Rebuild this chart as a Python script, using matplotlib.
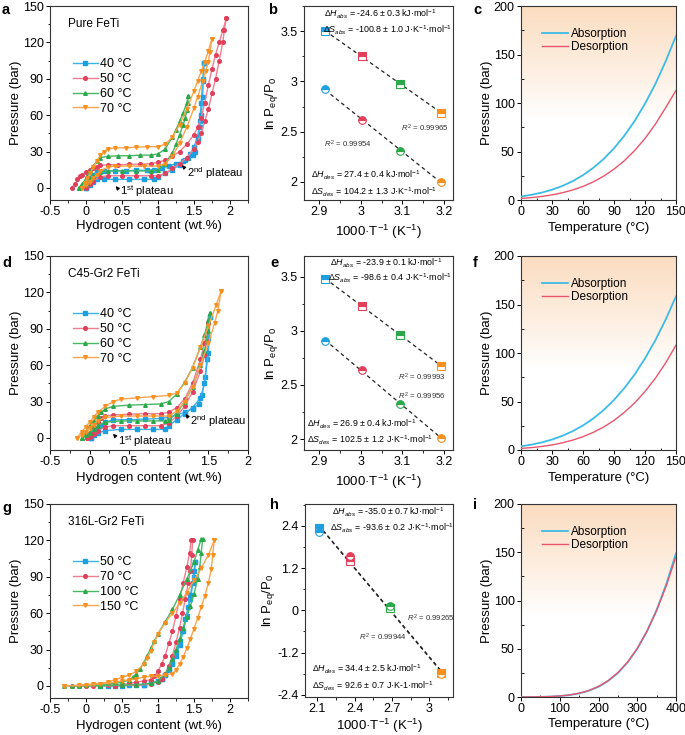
import numpy as np
import matplotlib
matplotlib.use("Agg")
import matplotlib.pyplot as plt
from matplotlib.ticker import MultipleLocator, FuncFormatter

# fuentes tipo Arial
plt.rcParams['font.family'] = ['Liberation Sans', 'DejaVu Sans']
plt.rcParams['mathtext.fontset'] = 'custom'
plt.rcParams['mathtext.rm'] = 'Liberation Sans'
plt.rcParams['mathtext.it'] = 'Liberation Sans:italic'
plt.rcParams['mathtext.bf'] = 'Liberation Sans:bold'
plt.rcParams['axes.unicode_minus'] = False
plt.rcParams['font.size'] = 9

# ---------------- data: PCT curves (x = wt.%, y = bar) ----------------
# panel a, Pure FeTi
a_temps = ['40 °C', '50 °C', '60 °C', '70 °C']
a40_ax = [0.0, 0.03, 0.06, 0.1, 0.15, 0.25, 0.4, 0.55, 0.7, 0.85, 0.95, 1.05, 1.15, 1.25, 1.35, 1.42, 1.48, 1.52, 1.55, 1.58, 1.6, 1.62, 1.64]
a40_ay = [0, 4, 8, 11, 13, 14, 14, 14, 14.5, 14.5, 15, 16, 18, 20, 22, 25, 27, 30, 40, 55, 70, 88, 103]
a40_dx = [1.64, 1.63, 1.62, 1.6, 1.58, 1.55, 1.5, 1.45, 1.38, 1.3, 1.2, 1.1, 1.0, 0.95, 0.8, 0.6, 0.4, 0.25, 0.15, 0.1, 0.05, 0.0]
a40_dy = [103, 90, 75, 60, 50, 42, 34, 28, 23, 19, 15, 12, 9, 7, 7, 7, 7, 7, 7, 5, 2, 0]
a50_ax = [-0.2, -0.15, -0.12, -0.09, -0.05, 0.0, 0.05, 0.1, 0.15, 0.2, 0.3, 0.45, 0.6, 0.75, 0.9, 1.0, 1.1, 1.2, 1.3, 1.4, 1.5, 1.55, 1.6, 1.65, 1.7, 1.75, 1.8, 1.85, 1.9, 1.95]
a50_ay = [0, 3, 7, 10, 11, 13, 15, 16, 17.5, 18.5, 19, 19, 19.5, 19.5, 20, 21, 23, 26, 30, 36, 44, 50, 58, 70, 85, 98, 110, 120, 130, 140]
a50_dx = [1.95, 1.92, 1.9, 1.85, 1.8, 1.75, 1.7, 1.65, 1.6, 1.55, 1.5, 1.4, 1.3, 1.2, 1.1, 1.0, 0.9, 0.7, 0.5, 0.3, 0.2, 0.1, 0.05, 0.0]
a50_dy = [140, 130, 120, 105, 90, 78, 65, 55, 45, 38, 32, 25, 20, 16, 12, 10, 10, 10, 10, 10, 9, 6, 3, 0]
a60_ax = [-0.1, -0.06, -0.02, 0.02, 0.06, 0.1, 0.15, 0.2, 0.3, 0.45, 0.6, 0.75, 0.9, 1.0, 1.1, 1.2, 1.25, 1.3, 1.35, 1.4, 1.42]
a60_ay = [0, 3, 6, 10, 14, 18, 22, 25, 26, 26.5, 26.5, 27, 27, 28, 32, 42, 48, 55, 62, 70, 76]
a60_dx = [1.42, 1.41, 1.4, 1.38, 1.35, 1.3, 1.25, 1.2, 1.1, 1.0, 0.9, 0.7, 0.5, 0.3, 0.2, 0.1, 0.05, 0.0, -0.05, -0.1]
a60_dy = [76, 70, 64, 58, 52, 44, 36, 29, 20, 15, 14, 14, 14, 14, 13, 10, 7, 4, 2, 0]
a70_ax = [-0.05, -0.02, 0.02, 0.06, 0.1, 0.15, 0.2, 0.25, 0.3, 0.4, 0.55, 0.7, 0.85, 1.0, 1.1, 1.2, 1.3, 1.4, 1.5, 1.55, 1.6, 1.65, 1.7, 1.75]
a70_ay = [0, 4, 8, 12, 17, 22, 27, 30, 32, 33, 33, 33.5, 34, 34, 36, 42, 52, 65, 80, 88, 96, 104, 113, 123]
a70_dx = [1.75, 1.72, 1.7, 1.66, 1.62, 1.55, 1.5, 1.4, 1.3, 1.2, 1.1, 1.0, 0.8, 0.6, 0.4, 0.3, 0.2, 0.15, 0.1, 0.05, 0.0, -0.05]
a70_dy = [123, 112, 104, 96, 88, 75, 66, 50, 37, 26, 20, 18, 18, 18, 18, 17, 14, 11, 8, 5, 2, 0]

# panel d, C45-Gr2 FeTi
d_temps = ['40 °C', '50 °C', '60 °C', '70 °C']
d40_ax = [0.02, 0.05, 0.1, 0.15, 0.2, 0.3, 0.5, 0.7, 0.9, 1.0, 1.1, 1.2, 1.3, 1.38, 1.42, 1.46, 1.48, 1.5, 1.52]
d40_ay = [0, 4, 8, 11, 13, 15, 15, 15.5, 16, 17, 19, 21, 24, 28, 35, 50, 65, 82, 100]
d40_dx = [1.52, 1.5, 1.45, 1.4, 1.3, 1.2, 1.1, 1.0, 0.95, 0.8, 0.6, 0.4, 0.2, 0.1, 0.05, 0.02]
d40_dy = [100, 70, 45, 33, 25, 20, 15, 10, 7, 7, 7, 7, 6, 4, 2, 0]
d50_ax = [-0.03, 0.0, 0.05, 0.1, 0.15, 0.2, 0.3, 0.5, 0.7, 0.9, 1.0, 1.1, 1.2, 1.3, 1.4, 1.45, 1.48, 1.5]
d50_ay = [0, 4, 9, 13, 16, 18, 19, 19.5, 20, 20, 21, 25, 32, 45, 65, 78, 88, 95]
d50_dx = [1.5, 1.48, 1.45, 1.4, 1.3, 1.2, 1.1, 1.0, 0.9, 0.7, 0.5, 0.3, 0.2, 0.1, 0.05, 0.0, -0.03]
d50_dy = [95, 80, 68, 55, 38, 26, 18, 12, 10, 10, 10, 10, 9, 6, 3, 1, 0]
d60_ax = [-0.1, -0.05, 0.0, 0.05, 0.1, 0.15, 0.2, 0.3, 0.5, 0.7, 0.9, 1.0, 1.1, 1.2, 1.3, 1.4, 1.45, 1.5, 1.52]
d60_ay = [0, 5, 10, 14, 18, 21, 24, 26, 27, 27.5, 28, 30, 36, 46, 58, 75, 85, 97, 103]
d60_dx = [1.52, 1.5, 1.45, 1.4, 1.3, 1.2, 1.1, 1.0, 0.95, 0.8, 0.6, 0.4, 0.2, 0.1, 0.05, 0.0, -0.05, -0.1]
d60_dy = [103, 88, 72, 60, 42, 30, 20, 15, 14, 14, 14, 14, 13, 10, 7, 4, 2, 0]
d70_ax = [-0.16, -0.1, -0.05, 0.0, 0.05, 0.1, 0.2, 0.3, 0.4, 0.6, 0.8, 1.0, 1.1, 1.2, 1.3, 1.4, 1.5, 1.6, 1.66]
d70_ay = [0, 5, 9, 13, 17, 21, 26, 30, 32, 33, 34, 35, 37, 45, 58, 75, 92, 110, 121]
d70_dx = [1.66, 1.62, 1.58, 1.5, 1.4, 1.3, 1.2, 1.1, 1.0, 0.8, 0.6, 0.4, 0.2, 0.1, 0.05, 0.0, -0.05, -0.1, -0.16]
d70_dy = [121, 105, 95, 78, 60, 42, 30, 22, 18, 18, 18, 18, 17, 14, 11, 8, 5, 2, 0]

# panel g, 316L-Gr2 FeTi
g_temps = ['50 °C', '70 °C', '100 °C', '150 °C']
g50_ax = [0.3, 0.5, 0.7, 0.8, 0.9, 1.0, 1.05, 1.1, 1.15, 1.2, 1.25, 1.3, 1.35, 1.4, 1.45, 1.5, 1.52]
g50_ay = [0, 0, 0.5, 1, 2, 4, 6, 9, 13, 18, 25, 34, 45, 58, 72, 90, 102]
g50_dx = [1.52, 1.5, 1.48, 1.45, 1.42, 1.38, 1.34, 1.3, 1.25, 1.2, 1.15, 1.1, 1.05, 1.0, 0.9, 0.8, 0.6, 0.4, 0.2]
g50_dy = [102, 95, 85, 75, 65, 55, 45, 37, 28, 20, 14, 9, 6, 4, 2, 1, 0.5, 0.3, 0]
g70_ax = [-0.1, 0.1, 0.3, 0.5, 0.6, 0.7, 0.8, 0.9, 0.95, 1.0, 1.05, 1.1, 1.15, 1.2, 1.25, 1.3, 1.35, 1.4, 1.44, 1.46]
g70_ay = [0, 0, 0.5, 1, 2, 3, 4, 5, 8, 12, 18, 25, 35, 45, 58, 72, 85, 98, 110, 120]
g70_dx = [1.48, 1.47, 1.45, 1.42, 1.38, 1.34, 1.3, 1.25, 1.2, 1.15, 1.1, 1.05, 1.0, 0.9, 0.7, 0.4, 0.0, -0.2]
g70_dy = [120, 108, 95, 85, 72, 60, 48, 36, 25, 16, 10, 6, 3.5, 1.5, 0.5, 0.2, 0, 0]
g100_ax = [-0.2, 0.0, 0.2, 0.4, 0.5, 0.6, 0.65, 0.7, 0.75, 0.8, 0.85, 0.9, 0.95, 1.0, 1.1, 1.2, 1.3, 1.4, 1.5, 1.55, 1.6]
g100_ay = [0, 0.5, 1, 2, 3, 5, 7, 10, 14, 19, 25, 31, 37, 43, 53, 63, 75, 88, 102, 112, 121]
g100_dx = [1.62, 1.6, 1.58, 1.55, 1.5, 1.45, 1.4, 1.35, 1.3, 1.25, 1.2, 1.15, 1.1, 1.0, 0.9, 0.7, 0.5, 0.2, -0.1, -0.3]
g100_dy = [121, 110, 98, 88, 76, 66, 57, 48, 39, 30, 22, 15, 10, 4, 2, 1, 0.5, 0.2, 0, 0]
g150_ax = [-0.3, -0.1, 0.1, 0.3, 0.4, 0.5, 0.6, 0.7, 0.8, 0.85, 0.9, 0.95, 1.0, 1.1, 1.2, 1.3, 1.4, 1.5, 1.6, 1.7, 1.78]
g150_ay = [0, 0.5, 1.5, 3, 5, 7, 9, 12, 18, 23, 29, 36, 43, 52, 60, 68, 77, 87, 97, 108, 120]
g150_dx = [1.78, 1.76, 1.74, 1.7, 1.65, 1.6, 1.55, 1.5, 1.45, 1.4, 1.35, 1.3, 1.25, 1.2, 1.1, 1.0, 0.9, 0.8, 0.7, 0.6, 0.5, 0.4, 0.2, 0.0, -0.3]
g150_dy = [120, 108, 96, 85, 74, 65, 56, 47, 39, 31, 24, 18, 13, 10, 9, 8, 8, 7, 6, 5, 4, 3, 1.5, 0.5, 0]

# ---------------- data: van't Hoff points ----------------
bT = [2.914, 3.002, 3.095, 3.193]
b_abs = [3.50, 3.254, 2.97, 2.69]
b_des = [2.92, 2.62, 2.31, 2.00]
e_abs = [3.48, 3.232, 2.962, 2.676]
e_des = [2.907, 2.64, 2.326, 2.01]
hT = [2.11, 2.365, 2.68, 3.09]
h_abs = [2.34, 1.39, 0.07, -1.77]
h_des = [2.23, 1.55, 0.13, -1.81]

# ---------------- data: pressure vs temperature ----------------
cT = [0, 10, 20, 30, 40, 50, 60, 70, 80, 90, 100, 110, 120, 130, 140, 150]
c_abs = [3.64, 5.33, 7.61, 10.6, 14.5, 19.4, 25.6, 33.2, 42.3, 53.3, 66.3, 81.5, 99.3, 119.6, 142.9, 169.2]
c_des = [1.60, 2.44, 3.64, 5.27, 7.46, 10.3, 14.0, 18.7, 24.6, 31.8, 40.5, 51.0, 63.4, 78.1, 95.2, 113.0]
f_abs = [3.80, 5.51, 7.79, 10.8, 14.6, 19.4, 25.3, 32.5, 41.2, 51.6, 63.8, 77.9, 94.4, 113.1, 134.4, 158.4]
f_des = [1.62, 2.46, 3.64, 5.24, 7.37, 10.2, 13.7, 18.2, 23.7, 30.5, 38.8, 48.6, 60.3, 73.9, 89.8, 108.1]
iT = [0, 25, 50, 75, 100, 125, 150, 175, 200, 225, 250, 275, 300, 325, 350, 375, 400]
i_abs = [0.016, 0.057, 0.17, 0.43, 0.98, 1.98, 3.70, 6.45, 10.6, 16.6, 24.8, 35.8, 50.0, 68.0, 90.2, 117.1, 149.0]
i_des = [0.018, 0.065, 0.19, 0.47, 1.05, 2.11, 3.90, 6.72, 11.0, 17.0, 25.3, 36.2, 50.3, 68.1, 89.6, 115.5, 145.5]

# colores
line_cols = ['#3AB3E8', '#F27F91', '#45B865', '#F9A550']
mk_cols = ['#1E9FE0', '#E23F5B', '#2BA84A', '#F7901E']
mks = ['s', 'o', '^', 'v']
c_blue = '#3DBBE8'
c_red = '#E8556C'

fig = plt.figure(figsize=(6.85, 7.35), dpi=100)
W, H = 685, 735


def add_ax(x0, y0, x1, y1):
    return fig.add_axes([x0 / W, 1 - y1 / H, (x1 - x0) / W, (y1 - y0) / H])


def style(ax):
    for s in ax.spines.values():
        s.set_linewidth(0.8)
        s.set_color('#333333')
    ax.tick_params(which='major', direction='out', length=3, width=0.7, labelsize=9, pad=1.5)
    ax.tick_params(which='minor', direction='out', length=1.8, width=0.6)
    ax.xaxis.set_major_formatter(FuncFormatter(lambda v, p: '%g' % round(v, 3)))
    ax.yaxis.set_major_formatter(FuncFormatter(lambda v, p: '%g' % round(v, 3)))


def pct(ax, curves, temps, name, xmax, xpad):
    for i, (ax_, ay_, dx_, dy_) in enumerate(curves):
        ax.plot(ax_, ay_, '-', color=line_cols[i], lw=1.0, marker=mks[i], ms=2.6,
                mfc=mk_cols[i], mec=mk_cols[i], label=temps[i])
        ax.plot(dx_, dy_, '-', color=line_cols[i], lw=1.0, marker=mks[i], ms=2.6,
                mfc=mk_cols[i], mec=mk_cols[i])
    ax.set_xlim(-0.5, xmax)
    ax.set_ylim(-10, 150)
    ax.xaxis.set_major_locator(MultipleLocator(0.5))
    ax.xaxis.set_minor_locator(MultipleLocator(0.25))
    ax.yaxis.set_major_locator(MultipleLocator(30))
    ax.yaxis.set_minor_locator(MultipleLocator(15))
    ax.set_xlabel('Hydrogen content (wt.%)', fontsize=9.5, labelpad=xpad)
    ax.set_ylabel('Pressure (bar)', fontsize=9.5, labelpad=0.5)
    ax.text(0.09, 0.905, name, transform=ax.transAxes, fontsize=8.5, va='center')
    ax.legend(loc='upper left', bbox_to_anchor=(0.07, 0.775), frameon=False, fontsize=9,
              handlelength=2.0, handletextpad=0.2, labelspacing=0.22, borderpad=0.2)
    style(ax)


def vh(ax, xs, ya, yd, txt, r2pos, xlim, ylim, xt, yt, xpad=3):
    for i in range(4):
        ax.plot(xs[i], ya[i], 's', ms=5.5, mfc=mk_cols[i], mec=mk_cols[i], fillstyle='top',
                mfcalt='white', mew=0.8, zorder=3)
        ax.plot(xs[i], yd[i], 'o', ms=5.5, mfc=mk_cols[i], mec=mk_cols[i], fillstyle='top',
                mfcalt='white', mew=0.8, zorder=3)
    # rectas de ajuste
    for ys in (ya, yd):
        k, b0 = np.polyfit(xs, ys, 1)
        xx = np.array([xs[0], xs[-1]])
        ax.plot(xx, k * xx + b0, '--', color='#222222', lw=0.9, dashes=(3, 2.5), zorder=2)
    ax.set_xlim(*xlim)
    ax.set_ylim(*ylim)
    ax.set_xticks(xt)
    ax.set_yticks(yt)
    ax.set_xlabel('1000·T$^{-1}$ (K$^{-1}$)', fontsize=9.5, labelpad=xpad)
    ax.set_ylabel('ln P$_{\\rm eq}$/P$_0$', fontsize=9.5, labelpad=0.5)
    for (x, y, s) in txt:
        ax.text(x, y, s, transform=ax.transAxes, fontsize=6.4, va='center', ha='left')
    for (x, y, s) in r2pos:
        ax.text(x, y, '$R^2$ = ' + s, transform=ax.transAxes, fontsize=5.6, va='center',
                ha='left', color='#333333')
    style(ax)


def grad_bg(ax):
    g = np.linspace(0, 1, 256)
    t = np.clip((g - 0.42) / 0.58, 0, 1) ** 0.9
    top = np.array([0.985, 0.865, 0.755])
    img = np.ones((256, 1, 3)) * (1 - t[:, None, None]) + top[None, None, :] * t[:, None, None]
    ax.imshow(img, extent=[0, 1, 0, 1], transform=ax.transAxes, origin='lower',
              aspect='auto', zorder=0)


def ptemp(ax, T, pa, pd, xmax, xstep, xpad=3):
    grad_bg(ax)
    ax.plot(T, pa, color=c_blue, lw=1.3, label='Absorption', zorder=3)
    ax.plot(T, pd, color=c_red, lw=1.0, label='Desorption', zorder=3)
    ax.set_xlim(0, xmax)
    ax.set_ylim(0, 200)
    ax.xaxis.set_major_locator(MultipleLocator(xstep))
    ax.xaxis.set_minor_locator(MultipleLocator(xstep / 2))
    ax.yaxis.set_major_locator(MultipleLocator(50))
    ax.yaxis.set_minor_locator(MultipleLocator(25))
    ax.set_xlabel('Temperature (°C)', fontsize=9.5, labelpad=xpad)
    ax.set_ylabel('Pressure (bar)', fontsize=9.5, labelpad=0.5)
    ax.legend(loc='upper left', bbox_to_anchor=(0.08, 0.93), frameon=False, fontsize=8.5,
              handlelength=2.2, handletextpad=0.3, labelspacing=0.1, borderpad=0.2)
    style(ax)
    ax.tick_params(which='minor', direction='in')


# fila 1
ax_a = add_ax(50, 6, 248, 200)
pct(ax_a, [(a40_ax, a40_ay, a40_dx, a40_dy), (a50_ax, a50_ay, a50_dx, a50_dy),
           (a60_ax, a60_ay, a60_dx, a60_dy), (a70_ax, a70_ay, a70_dx, a70_dy)],
    a_temps, 'Pure FeTi', 2.25, 1)
ax_a.annotate('', xy=(0.39, 3.3), xytext=(0.46, -2),
              arrowprops=dict(arrowstyle='-|>', lw=0.8, color='k', mutation_scale=5))
ax_a.text(0.47, -2.5, '1$^{\\rm st}$ plateau', fontsize=8, va='center')
ax_a.annotate('', xy=(1.31, 20.5), xytext=(1.38, 15.5),
              arrowprops=dict(arrowstyle='-|>', lw=0.8, color='k', mutation_scale=5))
ax_a.text(1.40, 12.5, '2$^{\\rm nd}$ plateau', fontsize=8, va='center')

ax_b = add_ax(304, 6, 453, 200)
vh(ax_b, bT, b_abs, b_des,
   [(0.134, 0.959, '$\\mathit{\\Delta H}_{\\mathit{abs}}$ = -24.6 ± 0.3 kJ·mol$^{-1}$'),
    (0.128, 0.876, '$\\mathit{\\Delta S}_{\\mathit{abs}}$ = -100.8 ± 1.0 J·K$^{-1}$·mol$^{-1}$'),
    (0.047, 0.129, '$\\mathit{\\Delta H}_{\\mathit{des}}$ = 27.4 ± 0.4 kJ·mol$^{-1}$'),
    (0.047, 0.041, '$\\mathit{\\Delta S}_{\\mathit{des}}$ = 104.2 ± 1.3 J·K$^{-1}$·mol$^{-1}$')],
   [(0.649, 0.371, '0.99965'), (0.134, 0.289, '0.99954')],
   (2.863, 3.222), (1.82, 3.75), [2.9, 3.0, 3.1, 3.2], [2.0, 2.5, 3.0, 3.5])
ax_b.xaxis.set_minor_locator(MultipleLocator(0.05))
ax_b.yaxis.set_minor_locator(MultipleLocator(0.25))

ax_c = add_ax(521, 6, 676, 200)
ptemp(ax_c, cT, c_abs, c_des, 150, 30)

# fila 2
ax_d = add_ax(50, 256, 248, 450)
pct(ax_d, [(d40_ax, d40_ay, d40_dx, d40_dy), (d50_ax, d50_ay, d50_dx, d50_dy),
           (d60_ax, d60_ay, d60_dx, d60_dy), (d70_ax, d70_ay, d70_dx, d70_dy)],
    d_temps, 'C45-Gr2 FeTi', 2.0, 3)
ax_d.annotate('', xy=(0.27, 5), xytext=(0.34, 0.3),
              arrowprops=dict(arrowstyle='-|>', lw=0.8, color='k', mutation_scale=5))
ax_d.text(0.36, -2.5, '1$^{\\rm st}$ plateau', fontsize=8, va='center')
ax_d.annotate('', xy=(1.19, 21.4), xytext=(1.25, 16.5),
              arrowprops=dict(arrowstyle='-|>', lw=0.8, color='k', mutation_scale=5))
ax_d.text(1.27, 13.5, '2$^{\\rm nd}$ plateau', fontsize=8, va='center')

ax_e = add_ax(304, 256, 453, 450)
vh(ax_e, bT, e_abs, e_des,
   [(0.174, 0.964, '$\\mathit{\\Delta H}_{\\mathit{abs}}$ = -23.9 ± 0.1 kJ·mol$^{-1}$'),
    (0.161, 0.887, '$\\mathit{\\Delta S}_{\\mathit{abs}}$ = -98.6 ± 0.4 J·K$^{-1}$·mol$^{-1}$'),
    (0.02, 0.134, '$\\mathit{\\Delta H}_{\\mathit{des}}$ = 26.9 ± 0.4 kJ·mol$^{-1}$'),
    (0.02, 0.052, '$\\mathit{\\Delta S}_{\\mathit{des}}$ = 102.5 ± 1.2 J·K$^{-1}$·mol$^{-1}$')],
   [(0.63, 0.376, '0.99993'), (0.63, 0.278, '0.99956')],
   (2.863, 3.222), (1.90, 3.69), [2.9, 3.0, 3.1, 3.2], [2.0, 2.5, 3.0, 3.5])
ax_e.xaxis.set_minor_locator(MultipleLocator(0.05))
ax_e.yaxis.set_minor_locator(MultipleLocator(0.25))

ax_f = add_ax(521, 256, 676, 450)
ptemp(ax_f, cT, f_abs, f_des, 150, 30)

# fila 3
ax_g = add_ax(50, 504, 248, 698)
pct(ax_g, [(g50_ax, g50_ay, g50_dx, g50_dy), (g70_ax, g70_ay, g70_dx, g70_dy),
           (g100_ax, g100_ay, g100_dx, g100_dy), (g150_ax, g150_ay, g150_dx, g150_dy)],
    g_temps, '316L-Gr2 FeTi', 2.25, 3)

ax_h = add_ax(305, 504, 453, 697)
vh(ax_h, hT, h_abs, h_des,
   [(0.18, 0.959, '$\\mathit{\\Delta H}_{\\mathit{abs}}$ = -35.0 ± 0.7 kJ·mol$^{-1}$'),
    (0.17, 0.876, '$\\mathit{\\Delta S}_{\\mathit{abs}}$ = -93.6 ± 0.2 J·K$^{-1}$·mol$^{-1}$'),
    (0.047, 0.145, '$\\mathit{\\Delta H}_{\\mathit{des}}$ = 34.4 ± 2.5 kJ·mol$^{-1}$'),
    (0.047, 0.057, '$\\mathit{\\Delta S}_{\\mathit{des}}$ = 92.6 ± 0.7 J·K-1·mol$^{-1}$')],
   [(0.69, 0.409, '0.99265'), (0.365, 0.311, '0.99944')],
   (2.0, 3.19), (-2.46, 3.02), [2.1, 2.4, 2.7, 3.0], [-2.4, -1.2, 0, 1.2, 2.4], xpad=1)
ax_h.xaxis.set_minor_locator(MultipleLocator(0.15))
ax_h.yaxis.set_minor_locator(MultipleLocator(0.6))

ax_i = add_ax(521, 504, 676, 697)
ptemp(ax_i, iT, i_abs, i_des, 400, 100, xpad=2)

# letras de los paneles
for lab, x, y in [('a', 2, 10), ('b', 268, 10), ('c', 473, 10),
                  ('d', 2, 263), ('e', 270, 263), ('f', 473, 263),
                  ('g', 2, 508), ('h', 270, 505), ('i', 473, 505)]:
    fig.text(x / W, 1 - y / H, lab, fontsize=10.5, fontweight='bold', va='center', ha='left')

fig.savefig('out.png', dpi=100)
